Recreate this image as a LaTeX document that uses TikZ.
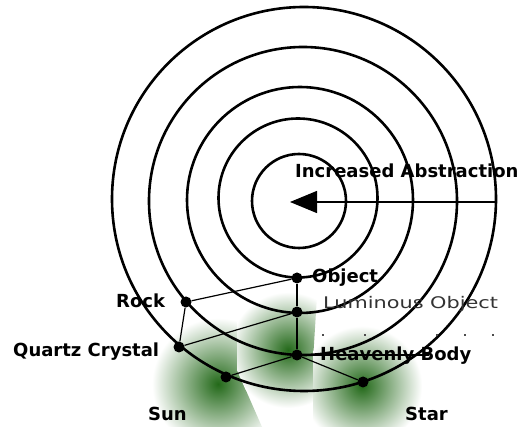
\documentclass[tikz,border=0pt]{standalone}
\usepackage{fontspec}
\setmainfont{DejaVu Sans}
\usetikzlibrary{arrows.meta}
\definecolor{glow}{RGB}{35,105,25}
\begin{document}
\begin{tikzpicture}[x=1pt,y=-1pt,
  ring/.style={line width=2.6pt},
  thinedge/.style={line width=1.2pt},
  thickedge/.style={line width=2.2pt},
  dot/.style={circle,fill=black,inner sep=0pt,minimum size=11pt},
  lbl/.style={font=\bfseries\fontsize{18}{20}\selectfont,inner sep=0pt,anchor=base west},
  lightlbl/.style={font=\fontsize{16}{18}\selectfont,text=black!80,inner sep=0pt,anchor=base west},
  speck/.style={fill=black!70}
]
\fill[white] (0,0) rectangle (525,427);
\useasboundingbox (0,0) rectangle (525,427);

% green glows
\begin{scope}
  \clip (100,290) -- (237,290) -- (237,370) -- (262,427) -- (100,427) -- cycle;
  \shade[inner color=glow, outer color=white] (218,384) circle[radius=66pt];
\end{scope}
\begin{scope}
  \clip (237,280) -- (318,280) -- (313,360) -- (313,427) -- (262,427) -- (237,370) -- cycle;
  \shade[inner color=glow, outer color=white] (288,350) circle[radius=58pt];
\end{scope}
\begin{scope}
  \clip (313,310) -- (470,310) -- (470,427) -- (313,427) -- cycle;
  \shade[inner color=glow, outer color=white] (362,386) circle[radius=60pt];
\end{scope}

% concentric rings
\draw[ring] (299,201) circle[radius=47pt];
\draw[ring] (298,198) circle[radius=79.5pt];
\draw[ring] (300,200) circle[radius=113pt];
\draw[ring] (303,201) circle[radius=154pt];
\draw[ring] (304,199) circle[radius=192pt];

% abstraction arrow
\coordinate (arrS) at (495,202);
\coordinate (arrT) at (290,202);
\draw[line width=1.3pt, -{Triangle[length=27pt,width=22pt]}] (arrS) -- (arrT);

% nodes
\node[dot] (obj)  at (297,278) {};
\node[dot] (lum)  at (297,312) {};
\node[dot] (hb)   at (297,355) {};
\node[dot] (rock) at (186,302) {};
\node[dot] (qc)   at (179,347) {};
\node[dot] (sun)  at (226,377) {};
\node[dot] (star) at (363,382) {};
\coordinate (hbR) at (429,355);

% connectors
\draw[thickedge] (obj) -- (lum);
\draw[thickedge] (lum) -- (hb);
\draw[thinedge] (obj) -- (rock);
\draw[thinedge] (rock) -- (qc);
\draw[thinedge] (qc) -- (lum);
\draw[thinedge] (hb) -- (sun);
\draw[thinedge] (hb) -- (star);
\draw[line width=1.5pt] (hb) -- (hbR);

% specks
\foreach \sx in {323,365,437,465,493}
  \fill[speck] (\sx-0.7,334.3) rectangle (\sx+0.7,335.7);

% labels
\node[lbl] (tIA) at (295,178) {Increased Abstraction};
\node[lbl] (tObj) at (312,283) {Object};
\node[lightlbl] (tLum) at (323,309) {\scalebox{1.3}[1]{Luminous Object}};
\node[lbl] (tRock) at (116,308) {Rock};
\node[lbl] (tQC) at (13,357) {Quartz Crystal};
\node[lbl] (tHB) at (320,361) {Heavenly Body};
\node[lbl] (tSun) at (148,421) {Sun};
\node[lbl] (tStar) at (405,421) {Star};
\end{tikzpicture}
\end{document}
